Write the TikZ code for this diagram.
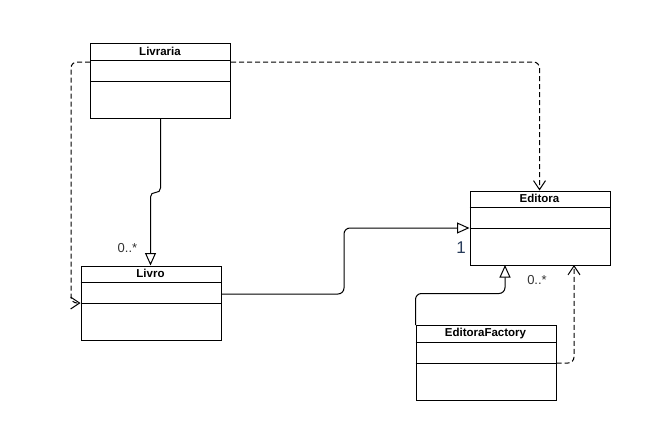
\documentclass[tikz,border=0pt]{standalone}
\usepackage{fontspec}
\setmainfont{Liberation Sans}
\usetikzlibrary{arrows.meta,calc}
\begin{document}
\begin{tikzpicture}[x=1pt,y=-1pt,
  line width=1pt,
  classbox/.style={draw,rectangle,sharp corners,anchor=north west,minimum width=140pt,minimum height=#1,inner sep=0pt},
  classtitle/.style={font=\fontsize{11.5}{13}\selectfont\bfseries,inner sep=0pt},
  mult/.style={font=\fontsize{13}{15}\selectfont,text=black!80,inner sep=0pt},
  gen/.style={-{Triangle[open,length=12.5pt,width=11pt]}},
  dep/.style={dash pattern=on 5pt off 3pt,-{Straight Barb[length=9pt,width=12pt]}},
  rounded corners=6pt]
  \useasboundingbox (0,0) rectangle (645,423);

  % class boxes with their compartments
  \node[classbox=75pt] (livraria) at (90,43) {};
  \draw[sharp corners] (90,60) -- (230,60) (90,81) -- (230,81);
  \node[classtitle] (livrariaT) at (160,51.5) {Livraria};

  \node[classbox=74.5pt] (livro) at (80.5,265.5) {};
  \draw[sharp corners] (80.5,282.5) -- (220.5,282.5) (80.5,303) -- (220.5,303);
  \node[classtitle] (livroT) at (150.5,273.5) {Livro};

  \node[classbox=74.5pt] (editora) at (469.5,190.5) {};
  \draw[sharp corners] (469.5,207.5) -- (609.5,207.5) (469.5,228) -- (609.5,228);
  \node[classtitle] (editoraT) at (539.5,198.5) {Editora};

  \node[classbox=75pt] (factory) at (415.5,325) {};
  \draw[sharp corners] (415.5,342) -- (555.5,342) (415.5,363) -- (555.5,363);
  \node[classtitle] (factoryT) at (485.5,333.5) {EditoraFactory};

  % Livraria -> Livro
  \draw[gen,rounded corners=5pt] (livraria.south) -- ++(0,74) -- ($(livro.north west)+(70,-73.5)$) -- ($(livro.north west)+(70,0)$);
  \node[mult] (m1) at (127.5,248) {0..*};

  % dashed dependencies from Livraria
  \draw[dep] ($(livraria.north west)+(0,19)$) -- (71,62) -- (71,303) -- ($(livro.north west)+(0,37.5)$);
  \draw[dep] ($(livraria.north east)+(0,19)$) -- (539.5,62) -- ($(editora.north west)+(70,0)$);

  % Livro -> Editora
  \draw[gen] ($(livro.north east)+(0,28.5)$) -- (344,294) -- (344,228) -- ($(editora.north west)+(0,37.5)$);
  \node[mult,font=\fontsize{17}{19}\selectfont,text={rgb,255:red,40;green,60;blue,90}] (m2) at (461,248) {1};

  % EditoraFactory -> Editora
  \draw[gen] (factory.north west) -- (415.5,293.5) -- (505,293.5) -- ($(editora.north west)+(35.5,74.5)$);
  \draw[dep] ($(factory.north east)+(0,38)$) -- (574,363) -- ($(editora.north west)+(104.5,74.5)$);
  \node[mult] (m3) at (537,280) {0..*};
\end{tikzpicture}
\end{document}
